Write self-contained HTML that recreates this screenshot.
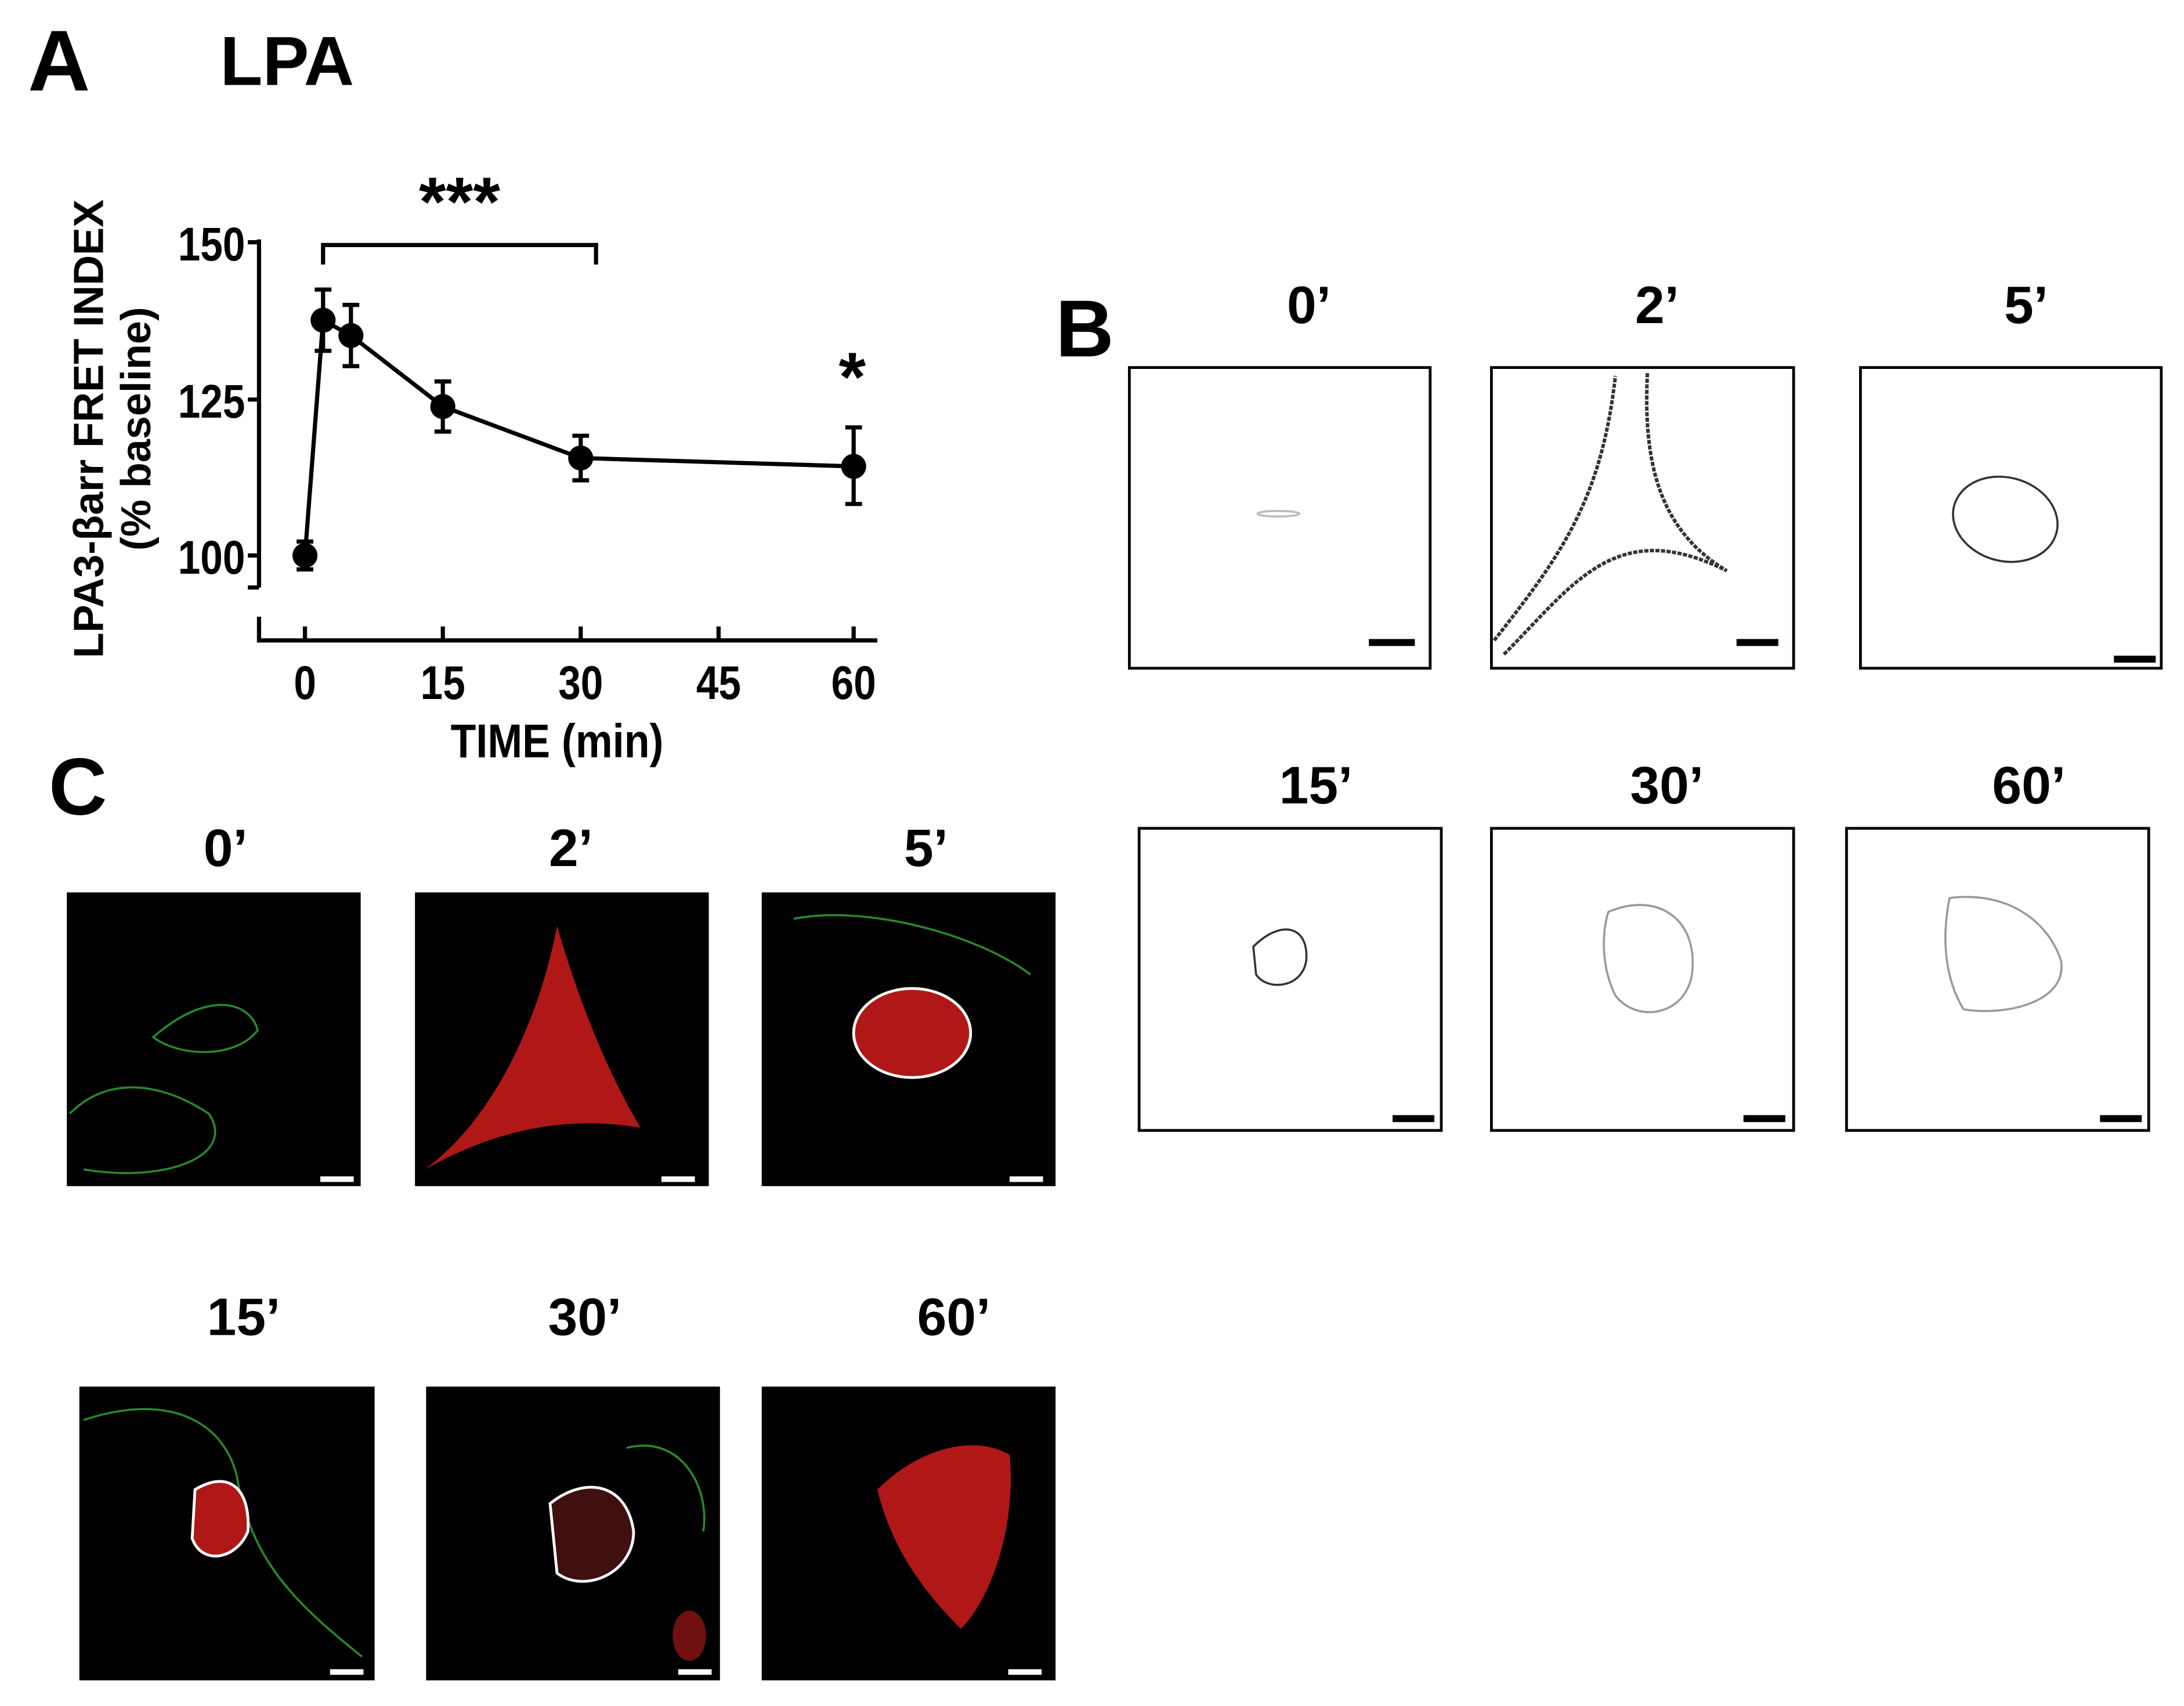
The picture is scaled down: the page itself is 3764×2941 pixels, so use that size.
<!DOCTYPE html>
<html><head><meta charset="utf-8"><style>html,body{margin:0;padding:0;background:#fff}svg{display:block}text{font-family:"Liberation Sans",Arial,sans-serif;font-weight:bold;fill:#000}</style></head>
<body>
<svg width="3764" height="2941" viewBox="0 0 1568.33 1225.42" xmlns="http://www.w3.org/2000/svg">
<rect width="1568.33" height="1225.42" fill="#fff"/>
<text x="20" y="65" font-size="62">A</text>
<text x="158" y="61" font-size="50">LPA</text>
<g stroke="#000" stroke-width="3" fill="none">
<path d="M186,172 V422 M178,174 H186 M178,287 H186 M178,399 H186 M178,422 H186"/>
<path d="M186,443 V460 H630 M219,460 V450 M318,460 V450 M417,460 V450 M516,460 V450 M613,460 V450"/>
<path d="M232,190 V176 H428 V190"/>
<polyline points="219,399 232,230 252,241 318,292 417,329 613,335"/>
<path d="M219,389 V409 M213,389 H225 M213,409 H225"/>
<path d="M232,208 V252 M226,208 H238 M226,252 H238"/>
<path d="M252,219 V263 M246,219 H258 M246,263 H258"/>
<path d="M318,274 V310 M312,274 H324 M312,310 H324"/>
<path d="M417,313 V345 M411,313 H423 M411,345 H423"/>
<path d="M613,307 V362 M607,307 H619 M607,362 H619"/>
</g>
<g fill="#000"><circle cx="219" cy="399" r="9"/><circle cx="232" cy="230" r="9"/><circle cx="252" cy="241" r="9"/><circle cx="318" cy="292" r="9"/><circle cx="417" cy="329" r="9"/><circle cx="613" cy="335" r="9"/></g>
<g font-size="34" text-anchor="end"><text transform="translate(176,187) scale(0.85,1)">150</text><text transform="translate(176,300) scale(0.85,1)">125</text><text transform="translate(176,412) scale(0.85,1)">100</text></g>
<g font-size="34" text-anchor="middle"><text transform="translate(219,502) scale(0.85,1)">0</text><text transform="translate(318,502) scale(0.85,1)">15</text><text transform="translate(417,502) scale(0.85,1)">30</text><text transform="translate(516,502) scale(0.85,1)">45</text><text transform="translate(613,502) scale(0.85,1)">60</text>
<text transform="translate(400,544) scale(0.88,1)" font-size="34">TIME (min)</text>
<text x="330" y="162" font-size="50">***</text><text x="612" y="288" font-size="50">*</text></g>
<g font-size="30" text-anchor="middle"><text transform="translate(74,308) rotate(-90)">LPA3-βarr FRET INDEX</text><text transform="translate(108,308) rotate(-90)">(% baseline)</text></g>
<text x="758" y="256" font-size="58">B</text>
<g font-size="38" text-anchor="middle"><text x="940" y="232">0’</text><text x="1190" y="232">2’</text><text x="1455" y="232">5’</text><text x="945" y="577">15’</text><text x="1197" y="577">30’</text><text x="1457" y="577">60’</text></g>
<g fill="none" stroke="#000" stroke-width="2"><rect x="811" y="264" width="216" height="216"/><rect x="1071" y="264" width="217" height="216"/><rect x="1336" y="264" width="216" height="216"/><rect x="818" y="595" width="217" height="217"/><rect x="1071" y="595" width="217" height="217"/><rect x="1326" y="595" width="217" height="217"/></g>
<g fill="#000"><rect x="983" y="459" width="33" height="5"/><rect x="1247" y="459" width="30" height="5"/><rect x="1518" y="471" width="30" height="5"/><rect x="1000" y="801" width="30" height="5"/><rect x="1252" y="801" width="30" height="5"/><rect x="1508" y="801" width="30" height="5"/></g>
<g fill="none" stroke="#333" stroke-width="1.5">
<ellipse cx="918" cy="369" rx="15" ry="2" stroke="#bbb"/>
<path d="M1073,460 C1120,400 1150,360 1160,270 M1183,268 C1180,330 1190,380 1240,410 M1080,470 C1130,420 1160,370 1240,410" stroke-width="2.5" stroke-dasharray="3 1"/>
<ellipse cx="1440" cy="373" rx="38" ry="30" transform="rotate(15 1440 373)"/>
<path d="M900,680 C920,660 940,665 938,690 C935,710 910,712 902,700 Z"/>
<path d="M1155,655 C1190,640 1220,660 1215,700 C1210,730 1175,735 1160,715 C1150,695 1150,670 1155,655 Z" stroke="#999"/>
<path d="M1400,645 C1440,640 1470,660 1480,690 C1485,720 1440,730 1410,725 C1395,700 1395,670 1400,645 Z" stroke="#999"/>
</g>
<text x="35" y="585" font-size="58">C</text>
<g font-size="38" text-anchor="middle"><text x="162" y="622">0’</text><text x="410" y="622">2’</text><text x="665" y="622">5’</text><text x="175" y="959">15’</text><text x="420" y="959">30’</text><text x="685" y="959">60’</text></g>
<g fill="#000"><rect x="48" y="641" width="211" height="211"/><rect x="298" y="641" width="211" height="211"/><rect x="547" y="641" width="211" height="211"/><rect x="57" y="996" width="212" height="211"/><rect x="306" y="996" width="211" height="211"/><rect x="547" y="996" width="211" height="211"/></g>
<g fill="none" stroke="#2a8a2a" stroke-width="1.5">
<path d="M110,745 C150,710 180,720 185,740 C170,760 130,760 110,745 Z"/><path d="M50,800 C80,770 120,780 150,800 C170,830 120,850 60,840"/>
<path d="M570,660 C620,650 700,670 740,700"/><path d="M60,1020 C120,1000 160,1020 170,1060 C180,1120 210,1150 260,1190"/>
<path d="M450,1040 C490,1030 510,1070 505,1100"/>
</g>
<g fill="#b01818">
<path d="M305,840 C360,800 390,720 400,665 C410,700 430,760 460,810 C400,800 350,815 305,840 Z"/>
<ellipse cx="655" cy="742" rx="42" ry="32"/>
<path d="M140,1070 C165,1055 180,1070 178,1100 C170,1120 145,1125 138,1105 Z"/>
<path d="M395,1080 C420,1060 450,1065 455,1100 C455,1130 420,1145 400,1130 Z" fill="#401010"/>
<ellipse cx="495" cy="1175" rx="12" ry="18" fill="#701010"/>
<path d="M630,1070 C660,1040 700,1030 725,1045 C730,1100 710,1150 690,1170 C660,1140 640,1110 630,1070 Z"/>
</g>
<g fill="none" stroke="#fff" stroke-width="2">
<ellipse cx="655" cy="742" rx="42" ry="32"/><path d="M140,1070 C165,1055 180,1070 178,1100 C170,1120 145,1125 138,1105 Z"/>
<path d="M395,1080 C420,1060 450,1065 455,1100 C455,1130 420,1145 400,1130 Z"/>
</g>
<g fill="#fff"><rect x="230" y="845" width="24" height="4"/><rect x="475" y="845" width="24" height="4"/><rect x="725" y="845" width="24" height="4"/><rect x="237" y="1199" width="24" height="4"/><rect x="487" y="1199" width="24" height="4"/><rect x="724" y="1199" width="24" height="4"/></g>
</svg>
</body></html>
